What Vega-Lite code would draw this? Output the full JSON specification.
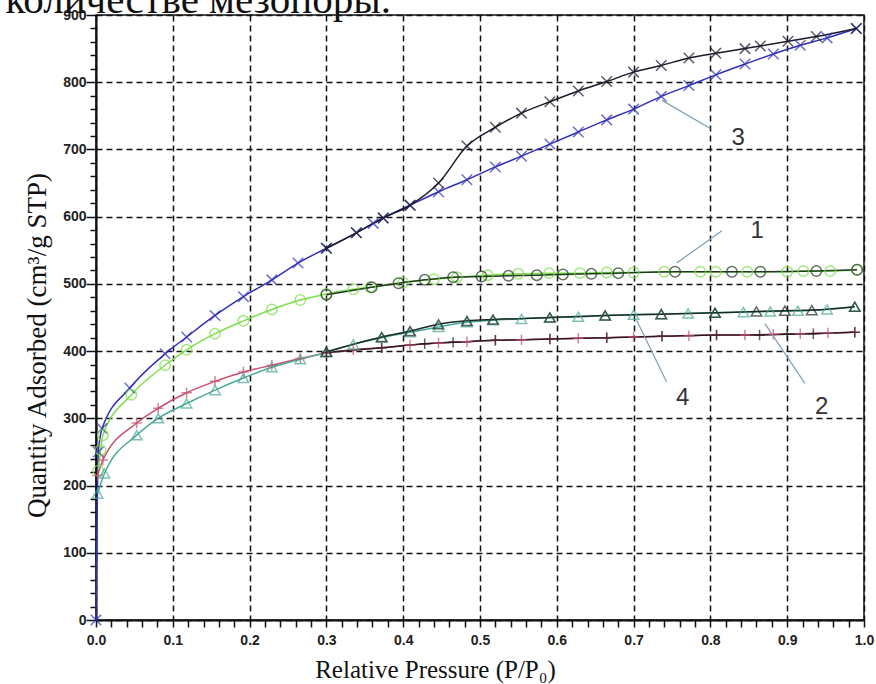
{
  "$schema": "https://vega.github.io/schema/vega-lite/v6.json",
  "width": 768,
  "height": 605,
  "autosize": {"type": "none"},
  "padding": {"left": 96, "top": 15, "right": 12, "bottom": 64},
  "background": "white",
  "config": {
    "view": {"stroke": "#111", "strokeWidth": 1.5},
    "axis": {
      "domainColor": "#111",
      "domainWidth": 2,
      "tickColor": "#111",
      "tickWidth": 1.5,
      "labelFont": "Liberation Sans",
      "labelFontWeight": "bold",
      "labelFontSize": 14,
      "labelColor": "#222",
      "labelOverlap": false,
      "labelFlush": false,
      "titleFont": "Liberation Serif",
      "titleFontWeight": "normal",
      "titleColor": "#111",
      "gridColor": "#111",
      "gridWidth": 1.5,
      "gridDash": [6, 4],
      "tickCount": 200
    }
  },
  "datasets": {
    "curves": [
      {"c":"3a","x":0,"y":0},{"c":"3a","x":0.003,"y":250},{"c":"3a","x":0.008,"y":285},{"c":"3a","x":0.044,"y":345},{"c":"3a","x":0.09,"y":396},{"c":"3a","x":0.118,"y":421},{"c":"3a","x":0.155,"y":453},{"c":"3a","x":0.192,"y":481},{"c":"3a","x":0.229,"y":506},{"c":"3a","x":0.263,"y":531},{"c":"3a","x":0.3,"y":553},{"c":"3a","x":0.339,"y":576},{"c":"3a","x":0.361,"y":590},{"c":"3a","x":0.374,"y":598},{"c":"3a","x":0.409,"y":617},{"c":"3a","x":0.446,"y":637},{"c":"3a","x":0.483,"y":655},{"c":"3a","x":0.52,"y":674},{"c":"3a","x":0.554,"y":690},{"c":"3a","x":0.591,"y":708},{"c":"3a","x":0.628,"y":726},{"c":"3a","x":0.665,"y":744},{"c":"3a","x":0.7,"y":760},{"c":"3a","x":0.736,"y":779},{"c":"3a","x":0.772,"y":795},{"c":"3a","x":0.807,"y":811},{"c":"3a","x":0.845,"y":827},{"c":"3a","x":0.882,"y":842},{"c":"3a","x":0.917,"y":855},{"c":"3a","x":0.952,"y":866},{"c":"3a","x":0.99,"y":880},
      {"c":"3d","x":0.99,"y":880},{"c":"3d","x":0.938,"y":868},{"c":"3d","x":0.901,"y":861},{"c":"3d","x":0.865,"y":854},{"c":"3d","x":0.845,"y":850},{"c":"3d","x":0.807,"y":843},{"c":"3d","x":0.772,"y":836},{"c":"3d","x":0.736,"y":825},{"c":"3d","x":0.7,"y":815},{"c":"3d","x":0.665,"y":801},{"c":"3d","x":0.628,"y":787},{"c":"3d","x":0.591,"y":771},{"c":"3d","x":0.554,"y":754},{"c":"3d","x":0.52,"y":733},{"c":"3d","x":0.483,"y":705},{"c":"3d","x":0.446,"y":650},{"c":"3d","x":0.409,"y":617},{"c":"3d","x":0.374,"y":598},{"c":"3d","x":0.339,"y":576},{"c":"3d","x":0.3,"y":553},
      {"c":"1a","x":0.003,"y":222},{"c":"1a","x":0.006,"y":253},{"c":"1a","x":0.009,"y":275},{"c":"1a","x":0.046,"y":335},{"c":"1a","x":0.09,"y":379},{"c":"1a","x":0.118,"y":402},{"c":"1a","x":0.155,"y":426},{"c":"1a","x":0.192,"y":445},{"c":"1a","x":0.229,"y":462},{"c":"1a","x":0.266,"y":476},{"c":"1a","x":0.3,"y":485},{"c":"1a","x":0.335,"y":492},{"c":"1a","x":0.357,"y":495},{"c":"1a","x":0.4,"y":502},{"c":"1a","x":0.44,"y":507},{"c":"1a","x":0.47,"y":510},{"c":"1a","x":0.51,"y":513},{"c":"1a","x":0.55,"y":515},{"c":"1a","x":0.59,"y":516},{"c":"1a","x":0.63,"y":516},{"c":"1a","x":0.665,"y":517},{"c":"1a","x":0.7,"y":517},{"c":"1a","x":0.74,"y":518},{"c":"1a","x":0.787,"y":518},{"c":"1a","x":0.807,"y":518},{"c":"1a","x":0.848,"y":518},{"c":"1a","x":0.9,"y":518},{"c":"1a","x":0.921,"y":519},{"c":"1a","x":0.956,"y":519},{"c":"1a","x":0.991,"y":521},
      {"c":"1d","x":0.991,"y":521},{"c":"1d","x":0.938,"y":519},{"c":"1d","x":0.865,"y":518},{"c":"1d","x":0.828,"y":518},{"c":"1d","x":0.754,"y":518},{"c":"1d","x":0.68,"y":516},{"c":"1d","x":0.645,"y":515},{"c":"1d","x":0.608,"y":514},{"c":"1d","x":0.574,"y":513},{"c":"1d","x":0.537,"y":512},{"c":"1d","x":0.502,"y":511},{"c":"1d","x":0.465,"y":510},{"c":"1d","x":0.428,"y":506},{"c":"1d","x":0.394,"y":501},{"c":"1d","x":0.359,"y":495},{"c":"1d","x":0.3,"y":484},
      {"c":"2a","x":0.002,"y":215},{"c":"2a","x":0.009,"y":238},{"c":"2a","x":0.053,"y":293},{"c":"2a","x":0.081,"y":315},{"c":"2a","x":0.118,"y":338},{"c":"2a","x":0.155,"y":355},{"c":"2a","x":0.192,"y":369},{"c":"2a","x":0.229,"y":379},{"c":"2a","x":0.266,"y":389},{"c":"2a","x":0.3,"y":397},{"c":"2a","x":0.335,"y":402},{"c":"2a","x":0.372,"y":405},{"c":"2a","x":0.409,"y":409},{"c":"2a","x":0.446,"y":412},{"c":"2a","x":0.483,"y":414},{"c":"2a","x":0.52,"y":416},{"c":"2a","x":0.554,"y":417},{"c":"2a","x":0.591,"y":418},{"c":"2a","x":0.628,"y":419},{"c":"2a","x":0.665,"y":420},{"c":"2a","x":0.7,"y":421},{"c":"2a","x":0.737,"y":422},{"c":"2a","x":0.772,"y":423},{"c":"2a","x":0.808,"y":424},{"c":"2a","x":0.845,"y":424},{"c":"2a","x":0.882,"y":425},{"c":"2a","x":0.917,"y":426},{"c":"2a","x":0.953,"y":427},{"c":"2a","x":0.988,"y":428},
      {"c":"2d","x":0.988,"y":428},{"c":"2d","x":0.934,"y":426},{"c":"2d","x":0.9,"y":425},{"c":"2d","x":0.864,"y":424},{"c":"2d","x":0.808,"y":424},{"c":"2d","x":0.737,"y":422},{"c":"2d","x":0.665,"y":420},{"c":"2d","x":0.591,"y":418},{"c":"2d","x":0.52,"y":416},{"c":"2d","x":0.465,"y":413},{"c":"2d","x":0.428,"y":411},{"c":"2d","x":0.372,"y":405},{"c":"2d","x":0.3,"y":398},
      {"c":"4a","x":0.002,"y":188},{"c":"4a","x":0.011,"y":218},{"c":"4a","x":0.053,"y":275},{"c":"4a","x":0.081,"y":300},{"c":"4a","x":0.118,"y":322},{"c":"4a","x":0.155,"y":342},{"c":"4a","x":0.192,"y":360},{"c":"4a","x":0.229,"y":376},{"c":"4a","x":0.266,"y":388},{"c":"4a","x":0.3,"y":398},{"c":"4a","x":0.335,"y":410},{"c":"4a","x":0.372,"y":420},{"c":"4a","x":0.409,"y":428},{"c":"4a","x":0.446,"y":436},{"c":"4a","x":0.483,"y":443},{"c":"4a","x":0.517,"y":446},{"c":"4a","x":0.554,"y":448},{"c":"4a","x":0.591,"y":450},{"c":"4a","x":0.628,"y":451},{"c":"4a","x":0.663,"y":453},{"c":"4a","x":0.7,"y":454},{"c":"4a","x":0.736,"y":455},{"c":"4a","x":0.771,"y":456},{"c":"4a","x":0.806,"y":457},{"c":"4a","x":0.843,"y":458},{"c":"4a","x":0.878,"y":459},{"c":"4a","x":0.914,"y":460},{"c":"4a","x":0.952,"y":462},{"c":"4a","x":0.988,"y":466},
      {"c":"4d","x":0.988,"y":466},{"c":"4d","x":0.932,"y":461},{"c":"4d","x":0.897,"y":460},{"c":"4d","x":0.86,"y":459},{"c":"4d","x":0.806,"y":457},{"c":"4d","x":0.736,"y":455},{"c":"4d","x":0.663,"y":453},{"c":"4d","x":0.591,"y":450},{"c":"4d","x":0.517,"y":447},{"c":"4d","x":0.483,"y":445},{"c":"4d","x":0.446,"y":440},{"c":"4d","x":0.409,"y":430},{"c":"4d","x":0.372,"y":421},{"c":"4d","x":0.3,"y":399}
    ],
    "leaders": [
      {"x":0.737,"y":773,"x2":0.8,"y2":731},
      {"x":0.756,"y":531,"x2":0.815,"y2":579},
      {"x":0.704,"y":446,"x2":0.743,"y2":354},
      {"x":0.871,"y":441,"x2":0.923,"y2":352}
    ],
    "labels": [
      {"label":"3","x":0.836,"y":717},
      {"label":"1","x":0.861,"y":579},
      {"label":"4","x":0.764,"y":330},
      {"label":"2","x":0.945,"y":317}
    ],
    "caption": [
      {"text":"количестве мезопоры.","x":-0.118,"y":903}
    ]
  },
  "layer": [
    {
      "data": {"name": "curves"},
      "mark": {"type": "line", "interpolate": "monotone", "strokeWidth": 1.5},
      "encoding": {
        "x": {
          "field": "x", "type": "quantitative",
          "scale": {"domain": [0, 1], "nice": false, "zero": false},
          "axis": {
            "title": "Relative Pressure (P/P₀)",
            "titleFontSize": 25,
            "titleX": 339,
            "titleY": 57,
            "titleBaseline": "alphabetic",
            "titleAlign": "center",
            "values": [0,0.02,0.04,0.06,0.08,0.1,0.12,0.14,0.16,0.18,0.2,0.22,0.24,0.26,0.28,0.3,0.32,0.34,0.36,0.38,0.4,0.42,0.44,0.46,0.48,0.5,0.52,0.54,0.56,0.58,0.6,0.62,0.64,0.66,0.68,0.7,0.72,0.74,0.76,0.78,0.8,0.82,0.84,0.86,0.88,0.9,0.92,0.94,0.96,0.98,1],
            "labelExpr": "round(datum.value*50) % 5 == 0 ? format(datum.value, '.1f') : ''",
            "tickSize": 7,
            "labelPadding": 6,
            "grid": true,
            "gridOpacity": {"condition": {"test": "round(datum.value*50) % 5 == 0", "value": 1}, "value": 0}
          }
        },
        "y": {
          "field": "y", "type": "quantitative",
          "scale": {"domain": [0, 900], "nice": false},
          "axis": {
            "title": "Quantity Adsorbed (cm³/g STP)",
            "titleFontSize": 27,
            "titleX": -59,
            "titleY": 330,
            "titleAlign": "center",
            "titleBaseline": "middle",
            "titleAngle": -90,
            "values": [0,20,40,60,80,100,120,140,160,180,200,220,240,260,280,300,320,340,360,380,400,420,440,460,480,500,520,540,560,580,600,620,640,660,680,700,720,740,760,780,800,820,840,860,880,900],
            "labelExpr": "datum.value % 100 == 0 ? datum.label : ''",
            "tickSize": {"condition": {"test": "datum.value % 100 == 0", "value": 10}, "value": 6},
            "labelPadding": 0,
            "grid": true,
            "gridOpacity": {"condition": {"test": "datum.value % 100 == 0", "value": 1}, "value": 0}
          }
        },
        "detail": {"field": "c"},
        "order": {"field": "x", "type": "quantitative"},
        "color": {
          "field": "c", "type": "nominal", "legend": null,
          "scale": {
            "domain": ["1a","1d","2a","2d","3a","3d","4a","4d"],
            "range": ["#7ede4c","#1f3a1f","#c8506e","#2a1a1f","#3030b8","#1a1a2a","#4aa898","#1a2a22"]
          }
        }
      }
    },
    {
      "data": {"name": "curves"},
      "mark": {"type": "point", "filled": false, "strokeWidth": 1.5, "size": 110},
      "encoding": {
        "x": {"field": "x", "type": "quantitative"},
        "y": {"field": "y", "type": "quantitative"},
        "color": {"field": "c", "type": "nominal", "legend": null},
        "shape": {
          "field": "c", "type": "nominal", "legend": null,
          "scale": {
            "domain": ["1a","1d","2a","2d","3a","3d","4a","4d"],
            "range": ["circle","circle","M0,-1L0,1M-1,0L1,0","M0,-1L0,1M-1,0L1,0","M-1,-1L1,1M-1,1L1,-1","M-1,-1L1,1M-1,1L1,-1","triangle-up","triangle-up"]
          }
        }
      }
    },
    {
      "data": {"name": "leaders"},
      "mark": {"type": "rule", "color": "#7f9fb5", "strokeWidth": 1.2},
      "encoding": {
        "x": {"field": "x", "type": "quantitative"},
        "y": {"field": "y", "type": "quantitative"},
        "x2": {"field": "x2"},
        "y2": {"field": "y2"}
      }
    },
    {
      "data": {"name": "labels"},
      "mark": {"type": "text", "font": "Liberation Sans", "fontSize": 24, "color": "#333", "align": "center", "baseline": "middle"},
      "encoding": {
        "x": {"field": "x", "type": "quantitative"},
        "y": {"field": "y", "type": "quantitative"},
        "text": {"field": "label"}
      }
    },
    {
      "data": {"name": "caption"},
      "mark": {"type": "text", "font": "Liberation Serif", "fontSize": 41, "color": "#111", "align": "left", "baseline": "alphabetic"},
      "encoding": {
        "x": {"field": "x", "type": "quantitative"},
        "y": {"field": "y", "type": "quantitative"},
        "text": {"field": "text"}
      }
    }
  ]
}
